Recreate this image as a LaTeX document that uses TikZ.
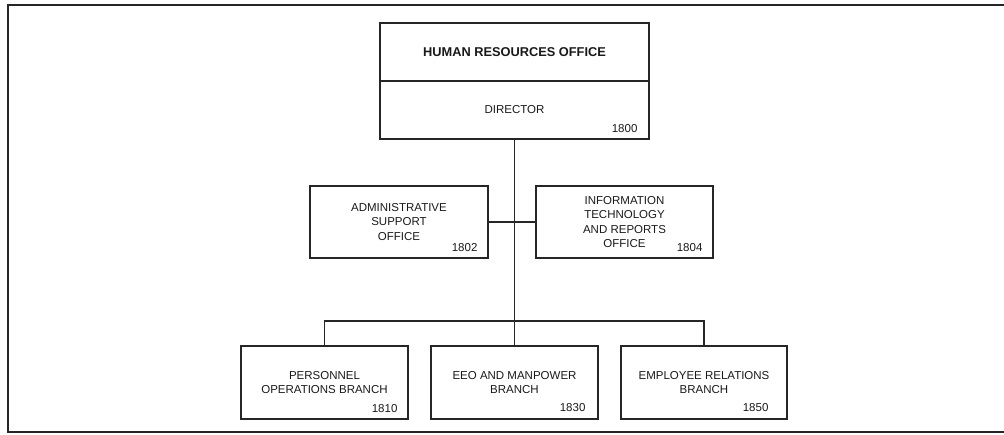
\documentclass[tikz,border=0pt]{standalone}
\usepackage{fontspec}
\setmainfont{Liberation Sans}
\begin{document}
\begin{tikzpicture}[x=1pt,y=-1pt,
  box/.style={draw=black!85, line width=1.2pt, inner sep=0pt, align=center,
    text=black!90, font=\fontsize{11.5}{14.5}\selectfont},
  num/.style={anchor=base east, inner sep=0pt, text=black!90,
    font=\fontsize{11.5}{14}\selectfont},
  conn/.style={draw=black!85, line width=1.2pt}]
\useasboundingbox (0,0) rectangle (1004,435);
\draw[line width=2pt, black!85] (1004,5) -- (7.5,5) -- (7.5,432) -- (1004,432);
% top box
\node[box, minimum width=269pt, minimum height=58pt, font=\bfseries\fontsize{12.8}{15}\selectfont]
  (hro) at (514.5,52) {HUMAN RESOURCES OFFICE};
\node[box, minimum width=269pt, minimum height=58pt] (dir) at (514.5,110) {DIRECTOR};
\node[num] (n1800) at ([xshift=-12pt,yshift=7pt]dir.south east) {1800};
% middle row
\node[box, minimum width=178pt, minimum height=72pt] (adm) at (399,222)
  {ADMINISTRATIVE\\SUPPORT\\OFFICE};
\node[num] (n1802) at ([xshift=-11pt,yshift=7pt]adm.south east) {1802};
\node[box, minimum width=177pt, minimum height=72pt] (itr) at (624.5,222)
  {INFORMATION\\TECHNOLOGY\\AND REPORTS\\OFFICE};
\node[num] (n1804) at ([xshift=-11pt,yshift=7pt]itr.south east) {1804};
% bottom row
\node[box, minimum width=167pt, minimum height=73pt] (pob) at (324.5,382.5)
  {PERSONNEL\\OPERATIONS BRANCH};
\node[num] (n1810) at ([xshift=-11pt,yshift=7pt]pob.south east) {1810};
\node[box, minimum width=167pt, minimum height=73pt] (eeo) at (514.5,382.5)
  {EEO AND MANPOWER\\BRANCH};
\node[num] (n1830) at ([xshift=-13pt,yshift=8pt]eeo.south east) {1830};
\node[box, minimum width=166pt, minimum height=73pt] (erb) at (704,382.5)
  {EMPLOYEE RELATIONS\\BRANCH};
\node[num] (n1850) at ([xshift=-19pt,yshift=8pt]erb.south east) {1850};
% connectors
\coordinate (bus) at (514.5,321);
\draw[conn] (dir.south) -- (eeo.north);
\draw[conn] (adm.east) -- (itr.west);
\draw[conn] (pob.north) |- (bus) -| (erb.north);
\end{tikzpicture}
\end{document}
